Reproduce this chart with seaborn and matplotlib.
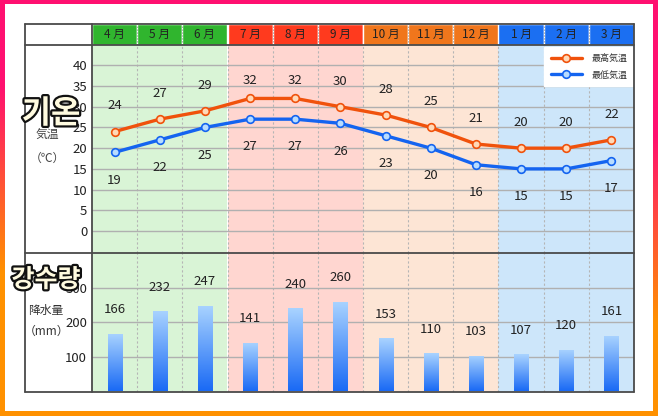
import numpy as np
import pandas as pd
import matplotlib
matplotlib.use("Agg")
import matplotlib.pyplot as plt
import seaborn as sns
from matplotlib.lines import Line2D
from matplotlib.patches import Rectangle
import matplotlib.patheffects as pe
from matplotlib.colors import LinearSegmentedColormap

# ---------------- data ----------------
months = ["4 月", "5 月", "6 月", "7 月", "8 月", "9 月",
          "10 月", "11 月", "12 月", "1 月", "2 月", "3 月"]
seasons = ["spring"] * 3 + ["summer"] * 3 + ["autumn"] * 3 + ["winter"] * 3
high_temp = [24, 27, 29, 32, 32, 30, 28, 25, 21, 20, 20, 22]
low_temp = [19, 22, 25, 27, 27, 26, 23, 20, 16, 15, 15, 17]
precip = [166, 232, 247, 141, 240, 260, 153, 110, 103, 107, 120, 161]
temp_ticks = [0, 5, 10, 15, 20, 25, 30, 35, 40]
precip_ticks = [100, 200, 300]
legend_labels = ["最高気温", "最低気温"]

header_colors = {"spring": "#30b52e", "summer": "#ff3a1e",
                 "autumn": "#f0761c", "winter": "#1b6ff2"}
bg_colors = {"spring": "#d9f4d6", "summer": "#ffd6d0",
             "autumn": "#fde5d5", "winter": "#cde6fa"}
high_color, low_color = "#f0520c", "#1464f0"

W, H = 658, 416
sns.set_theme(style="white")
plt.rcParams["font.family"] = ["Noto Sans CJK JP", "DejaVu Sans"]
fig = plt.figure(figsize=(W / 100, H / 100), dpi=100)


def frac(x0, y0, x1, y1):
    return [x0 / W, 1 - y1 / H, (x1 - x0) / W, (y1 - y0) / H]


# ---------------- gradient frame ----------------
bg = fig.add_axes([0, 0, 1, 1], zorder=-10)
bg.set_axis_off()
yy, xx = np.mgrid[0:1:300j, 0:1:300j]
t = np.clip((yy - 0.12 * xx - 0.43) / 0.45 + 0.5, 0, 1)
c0 = np.array([255, 16, 112]) / 255
c1 = np.array([255, 145, 0]) / 255
img = c0[None, None, :] * (1 - t[..., None]) + c1[None, None, :] * t[..., None]
bg.imshow(img, extent=[0, 1, 0, 1], aspect="auto", origin="upper")
bg.add_patch(Rectangle((5 / W, 1 - 411 / H), (653 - 5) / W, (411 - 4) / H,
                       transform=bg.transAxes, facecolor="white", edgecolor="none"))
bg.set_xlim(0, 1)
bg.set_ylim(0, 1)

df = pd.DataFrame({"pos": np.arange(len(months)), "month": months,
                   "season": seasons, "high": high_temp, "low": low_temp,
                   "precip": precip})
n = len(months)

# ---------------- header ----------------
ax_h = fig.add_axes(frac(92, 24, 634, 45))
ax_h.bar(df["pos"], 1, width=1.0, color=[header_colors[s] for s in seasons])
for i, m in enumerate(months):
    ax_h.text(i, 0.5, m, ha="center", va="center", fontsize=8.5, color="#222")
for k in range(n - 1):
    if seasons[k] == seasons[k + 1]:
        ax_h.axvline(k + 0.5, color="#555", lw=0.7, ls=(0, (1.5, 1.5)), alpha=0.5)
ax_h.set_xlim(-0.5, n - 0.5)
ax_h.set_ylim(0, 1)
ax_h.set_axis_off()


def panel_bg(ax):
    for i, s in enumerate(seasons):
        ax.axvspan(i - 0.5, i + 0.5, color=bg_colors[s], lw=0, zorder=0)
    for k in range(n - 1):
        ax.axvline(k + 0.5, color="#b5b5b5", lw=0.8, ls=(0, (2, 2)), zorder=1)


# ---------------- temperature panel ----------------
ms = 5.5
ax_t = fig.add_axes(frac(92, 45, 634, 253))
panel_bg(ax_t)
for v in temp_ticks:
    ax_t.axhline(v, color="#b0b0b0", lw=1.0, zorder=1)
sns.lineplot(data=df, x="pos", y="high", ax=ax_t, color=high_color, lw=2.4,
             marker="o", markersize=ms, markerfacecolor="#ffd9b8",
             markeredgecolor=high_color, markeredgewidth=1.2, zorder=5, legend=False)
sns.lineplot(data=df, x="pos", y="low", ax=ax_t, color=low_color, lw=2.4,
             marker="o", markersize=ms, markerfacecolor="#b8dcff",
             markeredgecolor=low_color, markeredgewidth=1.2, zorder=5, legend=False)
for i, (h, l) in enumerate(zip(high_temp, low_temp)):
    ax_t.text(i, min(h + 6.2, 36.3), str(h), ha="center", va="center",
              fontsize=9.5, color="#222", zorder=6)
    ax_t.text(i, l - 6.7, str(l), ha="center", va="center",
              fontsize=9.5, color="#222", zorder=6)
ax_t.set_xlim(-0.5, n - 0.5)
ax_t.set_ylim(-5.3, 44.9)
ax_t.set_yticks(temp_ticks)
ax_t.set_xticks([])
ax_t.tick_params(axis="y", length=0, pad=3.5, labelsize=9.5, labelcolor="#222")
ax_t.set_xlabel("")
ax_t.set_ylabel("")
for sp in ax_t.spines.values():
    sp.set_visible(False)
handles = [
    Line2D([], [], color=high_color, lw=2.4, marker="o", markersize=ms,
           markerfacecolor="#ffd9b8", markeredgecolor=high_color, markeredgewidth=1.2),
    Line2D([], [], color=low_color, lw=2.4, marker="o", markersize=ms,
           markerfacecolor="#b8dcff", markeredgecolor=low_color, markeredgewidth=1.2),
]
leg = ax_t.legend(handles, legend_labels, loc="upper right",
                  bbox_to_anchor=(1, 1 - 2 / 208), borderaxespad=0,
                  frameon=True, fancybox=False, framealpha=1,
                  facecolor="white", edgecolor="white", fontsize=6.5,
                  handlelength=3.5, handletextpad=1.0, labelspacing=0.85,
                  borderpad=0.75)
leg.set_zorder(10)
for txt in leg.get_texts():
    txt.set_color("#333")

# ---------------- precipitation panel ----------------
ax_p = fig.add_axes(frac(92, 253, 634, 392))
panel_bg(ax_p)
for v in precip_ticks:
    ax_p.axhline(v, color="#b0b0b0", lw=1.0, zorder=1)
sns.barplot(data=df, x="pos", y="precip", ax=ax_p, width=0.31,
            color="#5aa0ff", zorder=3)
cmap = LinearSegmentedColormap.from_list("bar", ["#1a6af5", "#a9d3ff"])
grad = np.linspace(0, 1, 100).reshape(-1, 1)
for bar in ax_p.containers[0]:
    x0, y0 = bar.get_xy()
    w, h = bar.get_width(), bar.get_height()
    im = ax_p.imshow(grad, extent=[x0, x0 + w, y0, y0 + h], aspect="auto",
                     cmap=cmap, origin="lower", zorder=4)
    im.set_clip_path(bar)
    bar.set_facecolor("none")
    bar.set_edgecolor("none")
for i, v in enumerate(precip):
    ax_p.text(i, v + 70, str(v), ha="center", va="center", fontsize=9.5,
              color="#222", zorder=6)
ax_p.set_xlim(-0.5, n - 0.5)
ax_p.set_ylim(-2, 400.6)
ax_p.set_yticks(precip_ticks)
ax_p.set_xticks([])
ax_p.tick_params(axis="y", length=0, pad=3.5, labelsize=9.5, labelcolor="#222")
ax_p.set_xlabel("")
ax_p.set_ylabel("")
for sp in ax_p.spines.values():
    sp.set_visible(False)

# ---------------- table lines ----------------
lc, lw = "#4a4a4a", 1.3


def hline(y, x0, x1):
    fig.add_artist(Line2D([x0 / W, x1 / W], [1 - y / H, 1 - y / H], color=lc, lw=lw,
                          transform=fig.transFigure, zorder=30))


def vline(x, y0, y1):
    fig.add_artist(Line2D([x / W, x / W], [1 - y0 / H, 1 - y1 / H], color=lc, lw=lw,
                          transform=fig.transFigure, zorder=30))


hline(24, 25, 634)
hline(45, 25, 634)
hline(253, 25, 634)
hline(392, 25, 634)
vline(25, 24, 392)
vline(92, 24, 392)
vline(634, 24, 392)

# ---------------- row labels ----------------
fig.text(47 / W, 1 - 135 / H, "気温", ha="center", va="center", fontsize=8.5, color="#444")
fig.text(47 / W, 1 - 158 / H, "（℃）", ha="center", va="center", fontsize=8.5, color="#444")
fig.text(46 / W, 1 - 310 / H, "降水量", ha="center", va="center", fontsize=8.5, color="#333")
fig.text(47 / W, 1 - 331 / H, "（mm）", ha="center", va="center", fontsize=8.5, color="#333")

kfam = ["Noto Sans CJK KR", "DejaVu Sans"]
fx = [pe.Stroke(linewidth=3.2, foreground="#111"), pe.Normal()]
fig.text(51 / W, 1 - 114 / H, "기온", ha="center", va="center", fontsize=23,
         fontweight="bold", family=kfam, color="#fffbe0", path_effects=fx, zorder=40)
fig.text(46 / W, 1 - 280 / H, "강수량", ha="center", va="center", fontsize=18,
         fontweight="bold", family=kfam, color="#fffbe0", path_effects=fx, zorder=40)

fig.savefig("out.png", dpi=100)
